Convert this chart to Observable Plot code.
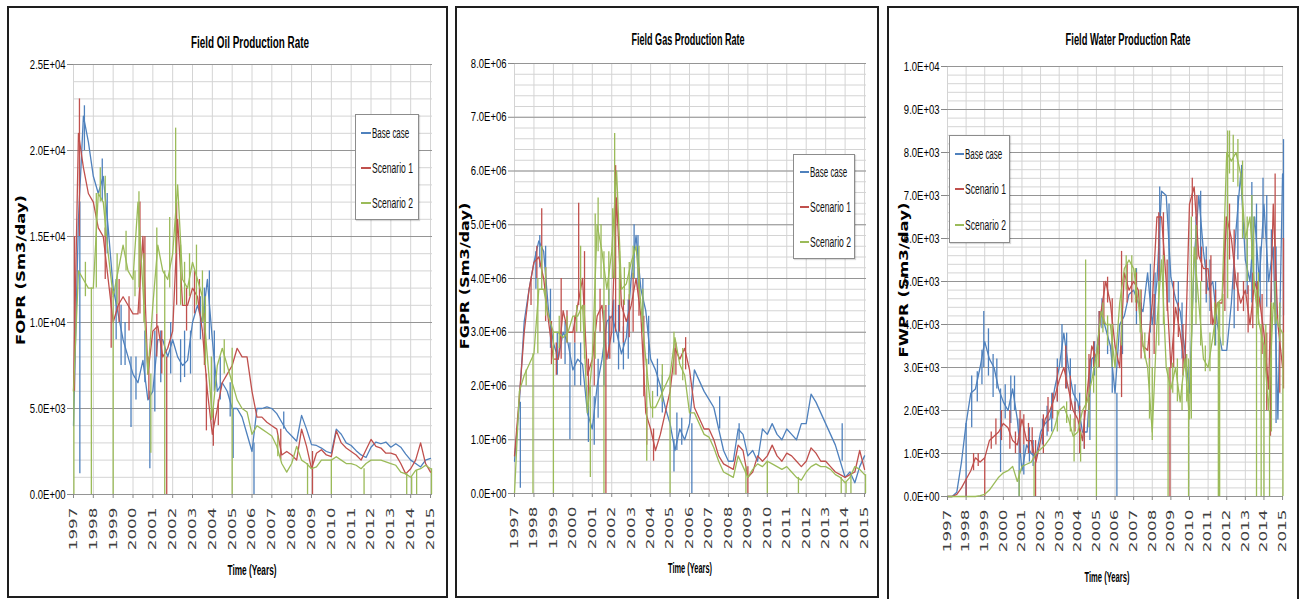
<!DOCTYPE html>
<html><head><meta charset="utf-8">
<script src="https://cdn.jsdelivr.net/npm/d3@7"></script>
<script src="https://cdn.jsdelivr.net/npm/@observablehq/plot@0.6"></script>
<style>
body{margin:0;background:#fff;}
#page{position:relative;width:1301px;height:599px;overflow:hidden;background:#fff;}
.panel{position:absolute;border:2px solid #1e1e1e;box-sizing:border-box;background:#fff;}
.abs{position:absolute;white-space:nowrap;line-height:1;}
.legend{position:absolute;border:1px solid #8c8c8c;background:#fff;box-sizing:border-box;box-shadow:1px 1px 1px rgba(0,0,0,0.15);}
.sample{position:absolute;height:2px;}
svg{position:absolute;}
</style>
</head><body><div id="page"></div>
<script>
// ---------------- DATA ----------------
const seriesNames = ["Base case", "Scenario 1", "Scenario 2"];
const years = [1997,1998,1999,2000,2001,2002,2003,2004,2005,2006,2007,2008,2009,2010,2011,2012,2013,2014,2015];
// quarterly sample times 1997.00 .. 2015.00
const quarters = d3.range(73).map(i => 1997 + i * 0.25);

// Field Oil Production Rate (Sm3/day)
const oilBase = [4000,16000,22000,20500,18500,17500,18500,15500,12000,10500,9000,8000,7000,6500,7800,5500,6000,9000,9000,8000,9000,8000,7500,7800,10000,11000,10000,12500,9000,6000,6500,6000,5000,5000,4500,3500,2500,5000,5000,5100,5000,4700,4200,3700,3400,3100,4600,3800,2900,2850,2700,2500,2400,3800,3500,3000,2850,2550,2300,2150,2750,3050,2950,3050,2750,2950,2750,2350,2000,1800,1600,2000,2100];
const oilScen1 = [6000,21000,19000,17500,17000,15500,15000,12500,10000,11000,11500,11000,10500,10500,15000,7000,9500,9800,8000,8500,9500,16000,11000,11000,12000,11500,9500,6000,3500,5000,6500,7000,7500,8500,8000,8000,6000,4500,4500,4200,4000,3800,2300,2500,2300,2000,3800,2800,1500,2400,2600,2300,2200,3700,3000,2700,2500,2300,2000,2600,3200,2800,2700,2400,2400,2300,1800,1200,1500,2000,3000,1800,1300];
const oilScen2 = [6000,13000,12500,12000,12000,17500,17000,14000,11500,13000,14500,13000,12500,17000,12000,7000,11000,14500,13000,12500,14000,18000,12500,12000,13500,12500,11500,8000,4500,7500,8500,7500,6500,5500,5000,4800,3500,4000,3800,3600,3400,2800,1800,1300,1800,2800,2000,1800,1500,1600,2000,2000,2000,2200,2000,1800,1800,1700,1500,1800,2000,2000,2000,1900,1800,1700,1300,1200,1000,1400,1500,1700,1500];
// short excursions: [year, low, high]
const oilBaseSpikes = [[1997.32,1200,17000],[1997.55,20000,22600],[1998.45,17000,19500],[1998.7,14000,17500],[1999.15,9000,12500],[1999.4,7500,11000],[1999.6,7500,10000],[1999.9,3900,8000],[2000.15,5500,8000],[2000.6,6500,9500],[2000.85,1500,6000],[2001.1,4800,9500],[2001.4,6500,9500],[2001.9,7000,10000],[2002.4,6500,9000],[2002.6,6800,9500],[2002.9,7000,9500],[2003.4,9000,11500],[2003.6,9500,12000],[2003.85,9000,13000],[2004.1,6000,9500],[2004.4,5500,8000],[2004.9,4500,6500],[2005.05,2100,5000],[2006.1,0,3000],[2007.6,3800,4800]];
const oilScen1Spikes = [[1997.05,6000,15000],[1997.3,15000,23000],[1998.6,12500,15500],[1998.9,8500,12000],[1999.3,10000,12500],[1999.8,9500,11500],[2000.35,10500,17000],[2000.6,11000,15000],[2000.8,5500,8000],[2001.2,8000,10500],[2001.45,7000,9500],[2001.7,0,8000],[2002.2,11000,17000],[2002.7,9500,12000],[2003.1,10500,13000],[2003.35,10500,12500],[2003.6,7500,10500],[2003.7,3700,7000],[2004.05,2800,5000],[2004.3,4000,5500],[2007.45,2000,3800],[2009.05,0,2500]];
const oilScen2Spikes = [[1997.02,0,6000],[1997.6,11500,13500],[1997.9,0,12000],[1998.15,12000,17500],[1998.35,17000,19000],[1998.6,15000,18500],[1999.0,0,11500],[1999.2,11000,14000],[1999.65,13000,15300],[2000.1,11500,13000],[2000.3,12000,17600],[2000.55,10000,14000],[2000.9,2400,7000],[2001.2,10500,15500],[2001.6,0,13000],[2001.85,12000,16100],[2002.15,14000,21300],[2002.4,11000,14500],[2002.6,11000,13500],[2002.85,11500,14000],[2003.2,11000,14500],[2003.5,10000,13000],[2003.65,7500,11500],[2003.95,4300,8000],[2004.6,7000,9000],[2005.0,0,8500],[2007.3,2200,3400],[2008.8,0,1800],[2010.0,0,2000],[2011.65,0,1500],[2013.8,0,1200],[2014.05,0,1000],[2014.3,0,1400],[2015.05,0,1500]];

// Field Gas Production Rate (millions of Sm3/day)
const gasUnit = 1e6;
const gasBase = [0.6,1.7,3.2,3.8,4.3,4.7,4.5,3.4,2.8,2.5,3.0,2.8,2.3,2.5,2.4,1.5,1.2,2.0,2.5,3.2,3.3,3.0,2.6,2.9,4.0,4.8,3.8,3.4,2.5,2.3,2.0,1.6,1.3,0.8,1.2,1.0,1.3,2.3,2.1,1.9,1.75,1.6,1.2,0.8,0.6,0.6,1.2,1.1,0.7,0.8,0.6,1.2,1.1,1.3,1.1,1.0,1.2,1.1,1.0,1.3,1.3,1.85,1.7,1.5,1.3,1.1,0.9,0.6,0.3,0.4,0.2,0.5,0.7];
const gasScen1 = [0.7,1.8,3.0,3.8,4.3,4.4,4.0,3.2,2.5,2.5,3.4,3.0,3.0,3.5,4.0,2.2,2.5,3.3,3.5,2.5,3.0,5.5,3.5,3.2,3.5,4.0,3.3,1.5,1.2,0.8,1.1,1.5,1.9,2.7,2.5,2.7,2.3,1.6,1.4,1.2,1.2,1.0,0.7,0.55,0.5,0.45,0.9,0.8,0.3,0.4,0.7,0.6,0.7,0.9,0.7,0.6,0.75,0.7,0.6,0.5,0.6,0.85,0.75,0.6,0.6,0.5,0.4,0.35,0.3,0.35,0.4,0.8,0.45];
const gasScen2 = [0.0,1.9,2.2,2.4,2.6,3.8,3.8,3.3,3.0,3.0,2.9,3.0,3.3,3.3,3.5,1.5,2.5,5.0,4.5,3.8,4.5,6.0,3.8,3.9,4.3,4.6,3.5,2.5,1.6,1.6,1.8,2.0,2.2,2.9,2.4,2.2,1.5,1.5,1.3,1.1,1.05,0.85,0.6,0.4,0.35,0.3,0.7,0.5,0.3,0.45,0.55,0.5,0.6,0.55,0.5,0.45,0.5,0.4,0.3,0.25,0.4,0.5,0.55,0.5,0.5,0.45,0.35,0.3,0.2,0.3,0.5,0.45,0.35];
const gasBaseSpikes = [[1997.3,0.1,1.7],[1998.1,3.8,4.5],[1998.3,4.2,4.8],[1998.6,3.5,4.6],[1998.85,2.7,3.8],[1999.2,2.2,3.0],[1999.6,2.4,3.2],[1999.85,1.0,2.8],[2000.1,2.0,2.8],[2000.4,2.0,2.8],[2000.8,0.95,2.0],[2001.1,0.9,1.8],[2001.3,1.4,2.5],[2001.6,2.0,3.4],[2001.85,2.5,3.8],[2002.1,2.8,3.6],[2002.35,2.3,3.5],[2002.6,2.3,3.1],[2002.85,2.5,3.6],[2003.15,4.0,5.0],[2003.35,3.8,4.8],[2003.6,3.0,4.0],[2003.9,2.4,3.3],[2004.35,1.8,2.5],[2004.6,1.5,2.2],[2005.2,0.4,1.0],[2005.35,0.8,1.5],[2005.6,0.9,1.4],[2006.12,0,1.3],[2007.55,1.2,1.8],[2008.55,1.0,1.3],[2013.85,0.6,1.3]];
const gasScen1Spikes = [[1997.85,3.5,4.0],[1998.15,4.0,4.6],[1998.4,4.0,5.3],[1998.6,3.2,4.2],[1998.9,2.4,3.2],[1999.15,2.2,2.8],[1999.4,2.5,4.0],[1999.7,2.8,3.4],[2000.1,2.8,3.3],[2000.3,3.5,5.4],[2000.6,3.0,4.5],[2000.8,1.7,2.5],[2001.1,2.0,3.0],[2001.4,3.0,3.8],[2001.7,0,3.5],[2001.9,2.5,3.3],[2002.2,3.0,6.1],[2002.4,3.0,4.0],[2002.6,2.8,3.6],[2002.9,2.9,3.7],[2003.1,3.0,4.1],[2003.4,3.3,4.2],[2003.65,1.8,3.3],[2003.8,0.9,1.6],[2004.15,0.6,1.2],[2005.3,2.2,2.8],[2005.8,2.3,2.9],[2009.0,0,0.5]];
const gasScen2Spikes = [[1997.6,2.0,2.3],[1997.95,0,2.6],[1998.2,2.6,4.0],[1998.4,3.8,4.6],[1998.6,3.3,4.2],[1999.0,0,3.0],[1999.3,2.7,3.3],[1999.7,2.8,3.3],[2000.2,3.0,3.5],[2000.4,3.0,4.6],[2000.6,2.5,3.5],[2000.9,0.3,2.0],[2001.15,2.5,5.2],[2001.3,4.5,5.5],[2001.45,4.0,5.0],[2001.6,0,4.5],[2001.85,3.5,4.5],[2002.05,4.0,5.3],[2002.15,4.0,6.7],[2002.4,3.5,4.5],[2002.65,3.5,4.2],[2002.9,3.6,4.3],[2003.1,4.0,4.6],[2003.4,3.8,4.6],[2003.6,3.0,3.8],[2003.8,0.6,2.5],[2004.1,1.4,1.9],[2004.6,1.7,2.4],[2005.0,0,2.2],[2005.2,2.2,3.0],[2005.65,2.1,2.7],[2008.9,0,0.5],[2010.0,0,0.6],[2011.6,0,0.3],[2013.8,0,0.3],[2014.05,0,0.2],[2014.3,0,0.3],[2015.05,0,0.35]];

// Field Water Production Rate (Sm3/day)
const waterBase = [0,0,100,800,1700,2400,2500,3000,3600,3200,3000,2500,2200,2000,2500,1800,600,1200,1000,900,1500,1700,1800,2500,3000,3800,3000,2400,2200,1500,1500,3200,3300,4300,3900,3500,2400,4000,4200,4700,4800,4500,4300,5200,4000,5000,7100,7000,5100,4600,4300,3400,2400,5500,7000,5700,4800,5000,4000,3400,3400,4500,6200,7500,5500,5000,6500,5000,6800,5000,5800,1800,7500];
const waterScen1 = [0,0,50,200,400,600,900,800,900,1300,1400,1500,1700,1600,1300,1200,1800,1300,1300,800,1300,1800,2000,2300,2700,3000,2500,2000,1800,1300,2400,3500,3200,4300,5000,4500,3500,3000,5200,4800,5000,4800,3500,3400,4500,6500,6500,5000,3000,4400,3800,3000,6800,7200,5600,5300,5300,4000,4500,4500,6500,6000,5000,4500,4800,4000,5000,4600,3800,2500,6800,4000,3000];
const waterScen2 = [0,0,0,0,0,0,0,20,50,150,300,450,550,600,700,350,700,750,800,1000,1100,1200,1350,1600,2000,2100,1800,1400,1500,2000,2200,2700,3300,4300,4000,4000,3000,4500,5300,5500,5300,4500,3500,3000,1500,4000,5500,3000,2500,3000,2200,3200,1800,5800,4500,3200,3000,3700,4500,4600,8000,7800,8000,7500,6000,6500,4800,4000,3500,2000,4500,4000,3800];
const waterBaseSpikes = [[1998.0,0,1700],[1998.3,1600,2800],[1998.6,2200,2900],[1998.85,2600,3400],[1998.95,3000,4300],[1999.2,2800,3900],[1999.45,2300,3300],[1999.65,2500,3200],[1999.85,560,2500],[2000.1,1800,2600],[2000.4,1700,2800],[2000.6,2000,2800],[2000.85,0,1800],[2001.1,500,1200],[2001.4,800,1600],[2001.6,700,1300],[2002.1,1200,1800],[2002.35,1400,2100],[2002.6,1500,2400],[2002.9,2200,3200],[2003.15,3000,4000],[2003.4,2500,3800],[2003.6,2200,3200],[2003.85,1900,2600],[2004.1,1000,2400],[2004.35,1100,1800],[2004.65,1300,3200],[2004.9,2800,3600],[2005.15,3300,4300],[2005.3,3900,4600],[2005.6,3300,4000],[2005.85,2400,3600],[2006.1,0,2400],[2006.4,3300,4300],[2007.15,4000,5300],[2007.4,3900,4500],[2007.9,3800,5400],[2008.15,4000,5200],[2008.4,5000,7200],[2008.9,4500,6800],[2009.4,4100,5000],[2009.6,3200,4500],[2010.35,4500,6500],[2010.6,5500,7100],[2010.9,4500,5800],[2011.1,4300,5500],[2011.4,3500,5000],[2012.4,3900,5200],[2012.6,5500,7000],[2012.8,7000,7700],[2013.1,4700,6000],[2013.35,4500,7300],[2013.6,4500,6800],[2013.8,4400,5800],[2013.95,6000,7400],[2014.15,4400,7000],[2014.4,4500,6200],[2014.65,1700,5800],[2015.05,4200,8300]];
const waterScen1Spikes = [[1998.0,0,400],[1998.4,600,1000],[1998.65,700,1000],[1999.0,0,900],[1999.35,1100,1500],[1999.6,1200,1800],[1999.9,1300,2000],[2000.35,1100,2000],[2000.65,1000,1500],[2000.9,1000,2000],[2001.1,1200,1900],[2001.35,1000,1700],[2001.55,1000,1600],[2001.73,0,1300],[2002.15,1000,1900],[2002.4,1500,2300],[2002.65,1800,2400],[2002.9,2200,3000],[2003.35,2500,3500],[2003.6,2000,2800],[2003.85,1500,2200],[2004.1,1000,2100],[2004.35,1100,2000],[2004.6,2000,3300],[2004.85,3000,3600],[2005.15,3000,4300],[2005.4,4000,5000],[2005.6,4500,5100],[2005.85,3400,4600],[2006.35,2300,5700],[2006.65,4500,5400],[2006.9,4500,5200],[2007.15,4300,5200],[2007.4,3200,4800],[2007.85,3000,3800],[2008.1,3300,4700],[2008.35,5000,6600],[2008.6,5200,6600],[2008.8,4300,5500],[2008.95,0,3000],[2009.15,3000,5000],[2009.4,3700,4500],[2009.65,2800,4000],[2010.15,6500,7400],[2010.4,5500,7000],[2010.65,5000,5800],[2010.9,4700,5500],[2011.15,4000,5600],[2011.4,4000,4800],[2011.6,0,4500],[2011.9,4300,6500],[2012.15,5500,6800],[2012.4,4800,6200],[2012.6,4300,5200],[2012.9,4300,5000],[2013.15,3800,4900],[2013.4,3900,5200],[2013.65,4300,5000],[2013.9,3300,4700],[2014.15,2000,3800],[2014.35,1400,4000],[2014.6,5000,7500],[2014.85,2400,4000],[2015.05,2500,6000]];
const waterScen2Spikes = [[2000.85,0,600],[2001.65,0,800],[2002.9,1500,2000],[2003.4,1700,2200],[2003.6,1500,1900],[2003.8,800,1800],[2004.15,800,1500],[2004.42,2000,5500],[2004.6,1600,2300],[2004.85,2400,3000],[2005.0,0,3300],[2005.1,3000,3500],[2005.35,3800,4500],[2005.6,3500,4200],[2005.85,3000,4000],[2006.35,3500,4800],[2006.6,4800,5600],[2006.9,5000,5600],[2007.1,4500,5300],[2007.35,3800,4800],[2007.6,3200,3800],[2007.85,1800,3200],[2008.0,1300,3000],[2008.35,3500,5000],[2008.6,4000,5600],[2008.85,0,3000],[2009.1,2400,3100],[2009.35,2200,3200],[2009.6,2000,2600],[2009.85,2200,3300],[2009.95,0,3200],[2010.1,1800,6500],[2010.35,4000,6300],[2010.6,3500,5000],[2010.85,2900,3500],[2011.1,2900,3800],[2011.35,3500,4500],[2011.55,0,4500],[2011.62,0,4500],[2011.8,3500,4700],[2012.05,4600,8500],[2012.15,7500,8500],[2012.35,7300,8400],[2012.6,7200,8300],[2012.85,6000,7800],[2013.1,5000,6500],[2013.35,5500,7000],[2013.45,4800,6500],[2013.6,0,4800],[2013.7,4000,5200],[2013.85,0,4000],[2014.0,0,3500],[2014.1,3000,4000],[2014.3,0,2000],[2014.4,1500,4500],[2014.6,4000,5000],[2014.85,3600,4500],[2015.02,0,3800]];

const titles = ["Field Oil Production Rate", "Field Gas Production Rate", "Field Water Production Rate"];
const yTitles = ["FOPR (Sm3/day)", "FGPR (Sm3/day)", "FWPR (Sm3/day)"];
const xTitle = "Time (Years)";

// ---------------- STYLE / LAYOUT ----------------
const COLORS = ["#4F81BD", "#C0504D", "#9BBB59"];
const page = document.getElementById("page");

function sci(v) {
  if (v === 0) return "0.0E+00";
  const e = Math.floor(Math.log10(v) + 1e-9);
  const m = v / Math.pow(10, e);
  return m.toFixed(1) + "E+" + String(e).padStart(2, "0");
}

function addText(txt, o) {
  const d = document.createElement("div");
  d.className = "abs";
  d.textContent = txt;
  d.style.left = o.x + "px";
  d.style.top = o.y + "px";
  d.style.font = `${o.weight || "normal"} ${o.size}px ${o.font || "'Liberation Sans', Arial, sans-serif"}`;
  d.style.color = o.color || "#000";
  page.appendChild(d);
  const s = o.width / d.offsetWidth;
  if (o.anchor === "left") {
    d.style.transformOrigin = "0 50%";
    d.style.transform = `translateY(-50%) scaleX(${s})`;
  } else {
    d.style.transform = `translate(-50%,-50%) ${o.rotate ? "rotate(-90deg)" : ""} scaleX(${s})`;
  }
}

const panels = [
  {box:[7,6,448,598], plot:[73,64,432,494], xmax:2015.1, ymax:25000, major:5000, minor:1000, unit:1,
   series:[oilBase, oilScen1, oilScen2], spikes:[oilBaseSpikes, oilScen1Spikes, oilScen2Spikes],
   title:[250,43,118], ytitle:[21,270,150], xtitle:[252,570,49],
   legend:[355,114,419,220], entries:[133,168,203], sample:[361,371]},
  {box:[455,6,879,598], plot:[514,63,866,493], xmax:2015.1, ymax:8e6, major:1e6, minor:2e5, unit:gasUnit,
   series:[gasBase, gasScen1, gasScen2], spikes:[gasBaseSpikes, gasScen1Spikes, gasScen2Spikes],
   title:[688,40,113], ytitle:[465,276,147], xtitle:[690,568,44],
   legend:[793,154,855,259], entries:[172,207,242], sample:[800,809]},
  {box:[887,6,1299,602], plot:[947,66,1283,496], xmax:2015.05, ymax:10000, major:1000, minor:200, unit:1,
   series:[waterBase, waterScen1, waterScen2], spikes:[waterBaseSpikes, waterScen1Spikes, waterScen2Spikes],
   title:[1128,40,125], ytitle:[904,280,155], xtitle:[1107,577,45],
   legend:[949,135,1010,243], entries:[154,189,225], sample:[955,964]}
];

panels.forEach((cfg, p) => {
  const [bx0, by0, bx1, by1] = cfg.box;
  const [px0, py0, px1, py1] = cfg.plot;
  const frame = document.createElement("div");
  frame.className = "panel";
  Object.assign(frame.style, {left: bx0 + "px", top: by0 + "px", width: (bx1 - bx0) + "px", height: (by1 - by0) + "px"});
  page.appendChild(frame);

  const minorTicks = d3.range(0, cfg.ymax + cfg.minor / 2, cfg.minor);
  const majorTicks = d3.range(0, cfg.ymax + cfg.major / 2, cfg.major);
  const marks = [
    Plot.ruleY(minorTicks, {stroke: "#d4d4d4", strokeWidth: 1}),
    Plot.ruleX(years, {stroke: "#d4d4d4", strokeWidth: 1}),
    Plot.ruleY(majorTicks, {stroke: "#959595", strokeWidth: 1})
  ];
  cfg.series.forEach((vals, k) => {
    const rows = quarters.map((t, i) => ({t, v: vals[i] * cfg.unit}));
    marks.push(Plot.line(rows, {x: "t", y: "v", stroke: COLORS[k], strokeWidth: 1.3}));
    const sp = cfg.spikes[k].map(([t, lo, hi]) => ({t, lo: lo * cfg.unit, hi: hi * cfg.unit}));
    marks.push(Plot.ruleX(sp, {x: "t", y1: "lo", y2: "hi", stroke: COLORS[k], strokeWidth: 1.3}));
  });
  marks.push(Plot.axisY({ticks: majorTicks, tickFormat: sci, tickSize: 6, tickPadding: 2, label: null}));
  marks.push(Plot.axisX({ticks: years, tickFormat: d => String(d), tickRotate: -90, tickSize: 4, tickPadding: 9, label: null}));

  const svg = Plot.plot({
    width: bx1 - bx0, height: by1 - by0,
    marginLeft: px0 - bx0, marginTop: py0 - by0, marginRight: bx1 - px1, marginBottom: by1 - py1,
    x: {domain: [1997, cfg.xmax]},
    y: {domain: [0, cfg.ymax]},
    style: {background: "transparent", fontFamily: "'Liberation Sans', Arial, sans-serif", fontSize: "12px", color: "#000", overflow: "visible"},
    marks
  });
  svg.style.left = bx0 + "px";
  svg.style.top = by0 + "px";
  page.appendChild(svg);

  svg.querySelectorAll('g[aria-label="y-axis tick label"] text').forEach(t => {
    t.setAttribute("transform", (t.getAttribute("transform") || "") + " scale(0.76,1)");
  });
  const yl = svg.querySelector('g[aria-label="y-axis tick label"]');
  if (yl) { yl.setAttribute("font-size", "12.5"); }
  svg.querySelectorAll('g[aria-label="x-axis tick label"] text').forEach(t => {
    t.setAttribute("transform", (t.getAttribute("transform") || "") + " scale(1.6,1)");
  });
  const xl = svg.querySelector('g[aria-label="x-axis tick label"]');
  if (xl) { xl.setAttribute("font-size", "10.5"); xl.setAttribute("font-family", "'DejaVu Sans', Verdana, sans-serif"); xl.setAttribute("fill", "#404040"); }
  svg.querySelectorAll('g[aria-label="y-axis tick"], g[aria-label="x-axis tick"]').forEach(g => g.setAttribute("stroke", "#888"));

  // titles
  addText(titles[p], {x: cfg.title[0], y: cfg.title[1], width: cfg.title[2], size: 16, weight: "bold"});
  addText(yTitles[p], {x: cfg.ytitle[0], y: cfg.ytitle[1], width: cfg.ytitle[2], size: 11.5, weight: "bold", rotate: true, font: "'DejaVu Sans', Verdana, sans-serif"});
  addText(xTitle, {x: cfg.xtitle[0], y: cfg.xtitle[1], width: cfg.xtitle[2], size: 14, weight: "bold"});

  // legend
  const [lx0, ly0, lx1, ly1] = cfg.legend;
  const lg = document.createElement("div");
  lg.className = "legend";
  Object.assign(lg.style, {left: lx0 + "px", top: ly0 + "px", width: (lx1 - lx0) + "px", height: (ly1 - ly0) + "px"});
  page.appendChild(lg);
  seriesNames.forEach((name, k) => {
    const yy = cfg.entries[k];
    const s = document.createElement("div");
    s.className = "sample";
    Object.assign(s.style, {left: cfg.sample[0] + "px", top: (yy - 1) + "px", width: (cfg.sample[1] - cfg.sample[0]) + "px", background: COLORS[k]});
    page.appendChild(s);
    addText(name, {x: cfg.sample[1] + 1, y: yy, width: name === "Base case" ? 37 : 41, size: 14, anchor: "left", color: "#111"});
  });
});
</script>
</body></html>
